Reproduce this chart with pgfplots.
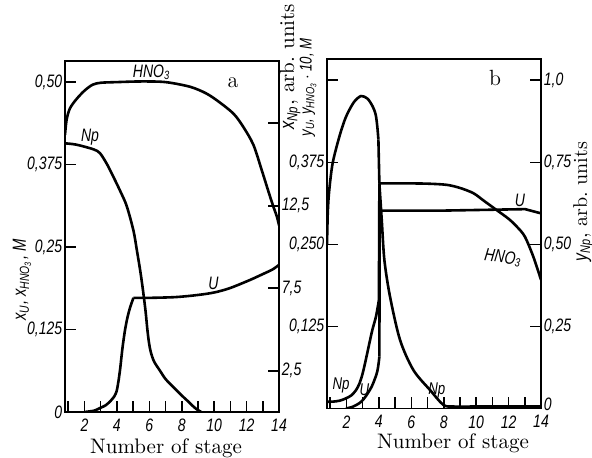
\documentclass[border=0pt]{standalone}
\usepackage{pgfplots}
\pgfplotsset{compat=1.18}
\usepackage{fontspec}
\newfontfamily\tickfamily{Liberation Sans}[FakeStretch=0.78]
\newcommand\tf{\tickfamily\itshape}
\pgfplotsset{
  base/.style={scale only axis, width=107pt, xmin=0.8, xmax=14, anchor=south west,
    tick align=inside, major tick length=5.5pt,
    axis line style={line width=0.9pt},
    tick style={black, line width=0.8pt},
    tick label style={font=\tf\fontsize{9}{10}\selectfont},
    yticklabel style={inner sep=1.2pt},
    every axis plot/.append style={black, line width=1.3pt, mark=none}},
  mainax/.style={base, xtick={1,...,14}, xticklabels={,2,,4,,6,,8,,10,,12,,14},
    xtick pos=bottom, ytick pos=left},
  rightax/.style={base, axis x line=none, axis y line*=right, ytick pos=right, xtick=\empty},
}
\begin{document}
\begin{tikzpicture}
\useasboundingbox (0,0) rectangle (296pt,229pt);
% ---------------- panel a ----------------
\begin{axis}[mainax, at={(32.5pt,23pt)}, height=175.5pt, ymin=0, ymax=0.532,
  ytick={0,0.125,0.25,0.375,0.5}, yticklabels={0,{0,125},{0,25},{0,375},{0,50}}]
% HNO3 (aqueous)
\addplot[black, smooth, tension=0.5] coordinates {(0.8,0.42) (0.9,0.443) (1.1,0.46) (1.5,0.474) (2.0,0.487) (2.5,0.496) (3.0,0.499) (4.0,0.5) (5.5,0.501) (7.0,0.5) (8.5,0.493) (9.5,0.483) (10.3,0.47) (11.2,0.452) (11.8,0.432) (12.42,0.405) (12.93,0.367) (13.3,0.338) (13.6,0.315) (13.87,0.296) (14,0.283)};
% U
\addplot[black, smooth, tension=0.4] coordinates {(2.0,0) (2.6,0.002) (2.96,0.006) (3.3,0.01) (3.58,0.016) (3.85,0.024) (3.99,0.032) (4.1,0.047) (4.2,0.065) (4.35,0.098) (4.5,0.124) (4.65,0.143) (4.81,0.158) (5.02,0.173)};
\addplot[black, smooth, tension=0.5] coordinates {(5.02,0.173) (6,0.173) (7.5,0.174) (8.5,0.176) (9.5,0.179) (10.16,0.182) (11,0.188) (12.2,0.2) (13,0.209) (13.6,0.216) (14,0.223)};
\end{axis}
\begin{axis}[rightax, at={(32.5pt,23pt)}, height=175.5pt, ymin=0, ymax=21.27,
  ytick={2.5,7.5,12.5,17.5}, yticklabels={{2,5},{7,5},{12,5},{}}]
% Np (arb. units)
\addplot[black, smooth, tension=0.5] coordinates {(0.8,16.28) (1.5,16.2) (2.55,15.92) (2.96,15.68) (3.4,15.0) (3.78,14.26) (4.2,13.4) (4.6,12.5) (5.02,11.0) (5.25,9.7) (5.45,8.5) (5.62,7.3) (5.77,6.1) (5.88,5.0) (5.98,4.2) (6.1,3.6) (6.3,3.05) (6.66,2.5) (7.0,2.0) (7.49,1.5) (8.0,1.0) (8.31,0.72) (8.7,0.35) (8.93,0.16) (9.2,0)};
\end{axis}
% ---------------- panel b ----------------
\begin{axis}[mainax, at={(163.5pt,24.75pt)}, height=174.6pt, ymin=0, ymax=0.532,
  ytick={0,0.125,0.25,0.375,0.5}, yticklabels={{},{0,125},{0,250},{0,375},{}}]
% HNO3 (organic, x10)
\addplot[black, smooth, tension=0.5] coordinates {(0.8,0.25) (0.85,0.30) (0.94,0.333) (1.15,0.374) (1.56,0.414) (1.9,0.44) (2.18,0.455) (2.5,0.468) (2.9,0.476) (3.3,0.472) (3.62,0.46) (3.8,0.448) (3.9,0.43) (3.97,0.41)};
\addplot[black, sharp plot] coordinates {(3.97,0.41) (4.03,0.343)};
\addplot[black, smooth, tension=0.5] coordinates {(4.03,0.343) (5.5,0.343) (7,0.3425) (8.19,0.3407) (9.0,0.336) (9.83,0.328) (10.5,0.316) (11.28,0.302) (12,0.289) (12.51,0.277) (13.0,0.262) (13.53,0.231) (14,0.196)};
% U
\addplot[black, smooth, tension=0.5] coordinates {(1.97,0) (2.39,0.0027) (2.79,0.008) (3.05,0.014) (3.31,0.023) (3.55,0.033) (3.72,0.043) (3.85,0.052) (3.93,0.06) (4.0,0.072) (4.03,0.079)};
\addplot[black, sharp plot] coordinates {(4.03,0.079) (4.05,0.3015) (8,0.3015) (13.02,0.3037) (13.95,0.2976) (14,0.297)};
\end{axis}
\begin{axis}[rightax, at={(163.5pt,24.75pt)}, height=174.6pt, ymin=0, ymax=1.064,
  ytick={0,0.25,0.5,0.75,1.0}, yticklabels={\raisebox{4.5pt}{0},{0,25},{0,50},{0,75},{1,0}}]
% Np (arb. units)
\addplot[black, smooth, tension=0.5] coordinates {(0.8,0.0208) (1.15,0.0208) (1.6,0.024) (1.97,0.031) (2.3,0.04) (2.59,0.056) (2.8,0.076) (3.0,0.107) (3.2,0.15) (3.41,0.198) (3.6,0.24) (3.82,0.28) (4.0,0.33)};
\addplot[black, sharp plot] coordinates {(4.0,0.33) (4.03,0.686)};
\addplot[black, smooth, tension=0.5] coordinates {(4.03,0.686) (4.18,0.572) (4.34,0.452) (4.69,0.34) (5.31,0.208) (6.13,0.117) (7.16,0.056) (7.98,0.011) (8.6,0.006) (10,0.006) (14,0.006)};
\end{axis}
% ---------------- texts ----------------
\begin{scope}[every node/.style={inner sep=0pt}]
\node[font=\fontsize{11}{12}\selectfont] at (116.5pt,187.5pt) {a};
\node[font=\fontsize{11}{12}\selectfont] at (247.5pt,190pt) {b};
\node[font=\tf\fontsize{9}{10}\selectfont] at (75.8pt,193pt) {HNO\textsubscript{3}};
\node[font=\tf\fontsize{9}{10}\selectfont] at (45pt,160.5pt) {Np};
\node[font=\tf\fontsize{9}{10}\selectfont] at (106.7pt,87.5pt) {U};
\node[font=\tf\fontsize{9}{10}\selectfont] at (260pt,129pt) {U};
\node[font=\tf\fontsize{9}{10}\selectfont, rotate=-8] at (251.5pt,100pt) {HNO\textsubscript{3}};
\node[font=\tf\fontsize{8.5}{10}\selectfont] at (170.5pt,36.5pt) {Np};
\node[font=\tf\fontsize{8.5}{10}\selectfont] at (182.2pt,34pt) {U};
\node[font=\tf\fontsize{8.5}{10}\selectfont] at (218.4pt,34pt) {Np};
\node[rotate=90, font=\tf\fontsize{9.5}{10}\selectfont] at (11pt,89pt) {x\textsubscript{U}, x\textsubscript{HNO\textsubscript{3}}, M};
\node[rotate=90, anchor=west, font=\fontsize{10.5}{12}\selectfont] at (145pt,164pt) {{\tf x\textsubscript{Np}}, arb.\ units};
\node[rotate=90, anchor=west, font=\tf\fontsize{8.5}{10}\selectfont] at (154pt,160.5pt) {y\textsubscript{U}, y\textsubscript{HNO\textsubscript{3}}\,$\cdot$\,10, M};
\node[rotate=90, anchor=west, font=\fontsize{10}{12}\selectfont] at (291.5pt,98pt) {{\tf y\textsubscript{Np}}, arb.\ units};
\node[font=\fontsize{10.5}{12}\selectfont] at (83pt,5pt) {Number of stage};
\node[font=\fontsize{10.5}{12}\selectfont] at (226.5pt,7.5pt) {Number of stage};
\end{scope}
\end{tikzpicture}
\end{document}
